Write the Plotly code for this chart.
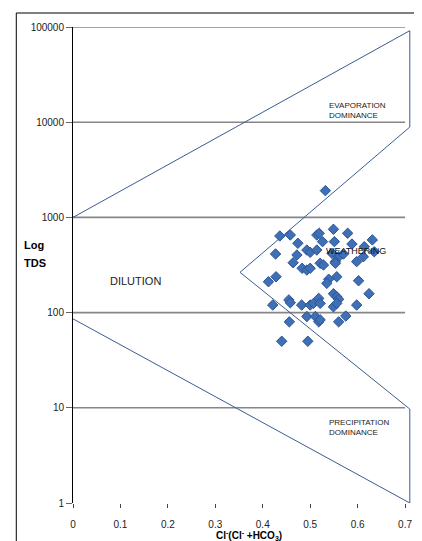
import plotly.graph_objects as go

# Sample data: Cl/(Cl+HCO3) ratio and TDS (mg/L)
ratio = [0.532, 0.436, 0.458, 0.474, 0.427, 0.472, 0.464, 0.493, 0.500, 0.514, 0.519,
         0.549, 0.579, 0.526, 0.514, 0.551, 0.588, 0.631, 0.614, 0.635, 0.546, 0.560,
         0.570, 0.553, 0.612, 0.598, 0.521, 0.528, 0.483, 0.493, 0.500, 0.553, 0.428,
         0.412, 0.539, 0.535, 0.556, 0.602, 0.624, 0.549, 0.556, 0.560, 0.455, 0.458,
         0.421, 0.482, 0.500, 0.507, 0.518, 0.521, 0.549, 0.556, 0.598, 0.493, 0.511,
         0.518, 0.521, 0.456, 0.560, 0.575, 0.440, 0.495]
tds = [1910, 638, 653, 535, 413, 403, 334, 454, 430, 653, 681,
       750, 681, 556, 454, 556, 525, 580, 492, 436, 419, 386,
       412, 343, 386, 343, 330, 316, 292, 280, 292, 330, 238,
       211, 224, 203, 238, 216, 158, 158, 147, 138, 136, 127,
       120, 120, 120, 125, 141, 125, 115, 125, 120, 91, 91,
       80, 84, 80, 80, 92, 50, 50]

# Gibbs diagram boundary (boomerang envelope)
boundary_x = [0.0, 0.71, 0.71, 0.352, 0.71, 0.71, 0.0]
boundary_y = [1000, 91500, 8900, 265, 9.7, 1, 86]

# Grid levels and axis ticks
grid_levels = [10, 100, 1000, 10000, 100000]
x_ticks = [0, 0.1, 0.2, 0.3, 0.4, 0.5, 0.6, 0.7]
x_tick_labels = ["0", "0.1", "0.2", "0.3", "0.4", "0.5", "0.6", "0.7"]
y_ticks = [1, 10, 100, 1000, 10000, 100000]
y_tick_labels = ["1", "10", "100", "1000", "10000", "100000"]

grid_x, grid_y = [], []
for g in grid_levels:
    grid_x += [0, 0.7, None]
    grid_y += [g, g, None]

fig = go.Figure()
fig.add_trace(go.Scatter(x=grid_x, y=grid_y, mode="lines",
                         line=dict(color="#868686", width=1.6),
                         hoverinfo="skip", showlegend=False))
fig.add_trace(go.Scatter(x=boundary_x, y=boundary_y, mode="lines",
                         line=dict(color="#3A5C94", width=1),
                         hoverinfo="skip", showlegend=False, cliponaxis=False))
fig.add_trace(go.Scatter(x=ratio, y=tds, mode="markers",
                         marker=dict(symbol="diamond", size=8, color="#3F6FB5",
                                     line=dict(color="#2B5596", width=1)),
                         showlegend=False))

FONT = "Liberation Sans, Arial, sans-serif"
NARROW = "Liberation Sans Narrow, Arial Narrow, Liberation Sans, sans-serif"

fig.update_layout(
    width=414, height=533,
    margin=dict(l=65, r=9.4, t=19, b=38),
    paper_bgcolor="white", plot_bgcolor="white",
    font=dict(family=FONT, size=10, color="#222222"),
    xaxis=dict(range=[0, 0.7125], tickvals=x_ticks, ticktext=x_tick_labels,
               showgrid=False, zeroline=False, showline=False,
               ticks="outside", ticklen=4, tickcolor="#444444",
               ticklabelstandoff=8, tickfont=dict(size=10, color="#222222")),
    yaxis=dict(type="log", range=[0, 5], tickvals=y_ticks, ticktext=y_tick_labels,
               showgrid=False, zeroline=False, showline=True, linecolor="#000000",
               linewidth=1, ticks="outside", ticklen=6, tickcolor="#666666",
               tickfont=dict(size=10, color="#222222")),
    shapes=[
        dict(type="rect", xref="paper", yref="paper", x0=-0.1678, x1=1.3,
             y0=-0.3, y1=1.0294, line=dict(color="#000000", width=1),
             fillcolor="rgba(0,0,0,0)", layer="below"),
    ],
    annotations=[
        dict(text="<b>Log</b>", xref="paper", yref="paper", x=-0.150, y=0.542,
             xanchor="left", yanchor="middle", showarrow=False,
             font=dict(size=11, color="#000000")),
        dict(text="<b>TDS</b>", xref="paper", yref="paper", x=-0.150, y=0.504,
             xanchor="left", yanchor="middle", showarrow=False,
             font=dict(size=11, color="#000000")),
        dict(text="DILUTION", xref="paper", yref="paper", x=0.1855, y=0.466,
             xanchor="center", yanchor="middle", showarrow=False,
             font=dict(size=11, color="#222222")),
        dict(text="EVAPORATION<br>DOMINANCE", xref="paper", yref="paper",
             x=0.751, y=0.8256, xanchor="left", yanchor="middle", align="left",
             showarrow=False, font=dict(size=8, family=NARROW, color="#222222")),
        dict(text="PRECIPITATION<br>DOMINANCE", xref="paper", yref="paper",
             x=0.751, y=0.1576, xanchor="left", yanchor="middle", align="left",
             showarrow=False, font=dict(size=8, family=NARROW, color="#222222")),
        dict(text="WEATHERING", xref="paper", yref="paper", x=0.742, y=0.529,
             xanchor="left", yanchor="middle", showarrow=False,
             font=dict(size=9, family=NARROW, color="#111111")),
        dict(text="<b>Cl<sup>-</sup>(Cl<sup>-</sup> +HCO<sub>3</sub>)</b>",
             xref="paper", yref="paper", x=0.521, y=-0.068,
             xanchor="center", yanchor="middle", showarrow=False,
             font=dict(size=10, color="#000000")),
    ],
)

fig.write_html("out.html")
